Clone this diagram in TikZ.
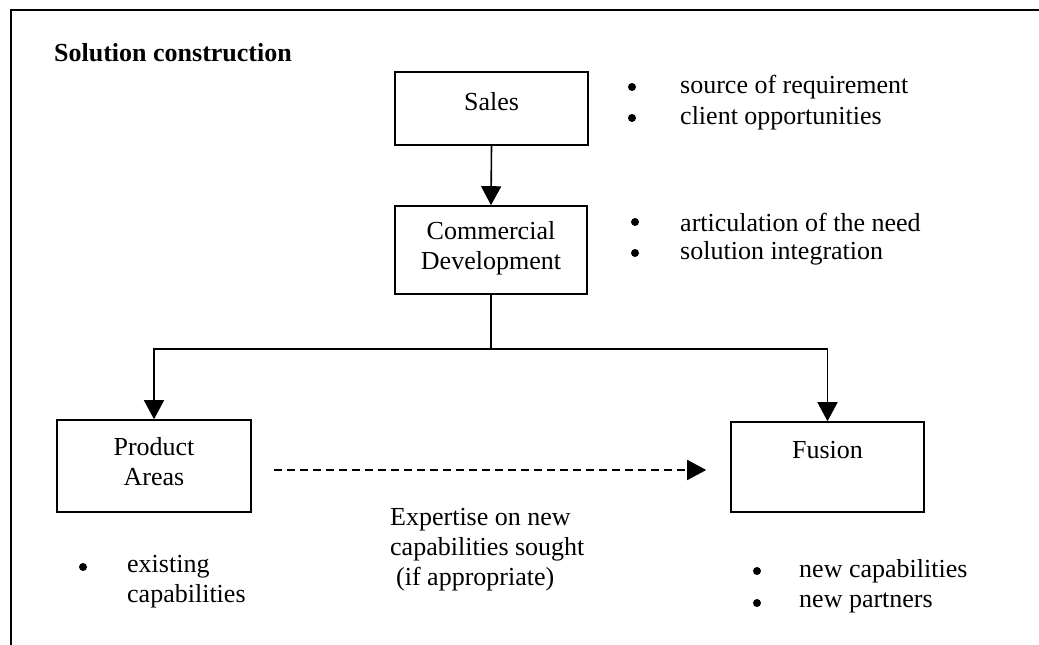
\documentclass[tikz,border=0pt]{standalone}
\usepackage{fontspec}
\setmainfont{Liberation Serif}
\usetikzlibrary{arrows.meta}
\begin{document}
\begin{tikzpicture}[x=1pt,y=-1pt,
  every node/.style={font=\fontsize{26}{30}\selectfont},
  box/.style={draw, line width=1.6pt, inner sep=0pt},
  lbl/.style={inner sep=0pt, align=center},
  item/.style={inner sep=0pt, anchor=west, align=left},
  dot/.style={circle, fill, inner sep=0pt, minimum size=8pt},
  conn/.style={line width=1.6pt},
  arr/.style={conn, -{Triangle[length=19pt,width=20pt]}},
  darr/.style={arr, dash pattern=on 8pt off 5pt}
]
\useasboundingbox (0,0) rectangle (1039,645);

% outer frame (top and left edges only)
\draw[line width=1.4pt] (11,645) -- (11,10) -- (1039,10);

% title
\node[item] (title) at (54,53) {\bfseries Solution construction};

% boxes
\node[box, minimum width=193pt, minimum height=73pt] (sales) at (491.5,108.5) {};
\node[box, minimum width=192pt, minimum height=88pt] (cd)    at (491,250) {};
\node[box, minimum width=194pt, minimum height=92pt] (prod)  at (154,466) {};
\node[box, minimum width=193pt, minimum height=90pt] (fus)   at (827.5,467) {};

% box labels
\node[lbl] (salesT) at (491.5,102) {Sales};
\node[lbl] (cdT)    at (491,248)   {Commercial\\Development};
\node[lbl] (prodT)  at (154,462)   {Product\\Areas};
\node[lbl] (fusT)   at (827.5,450) {Fusion};

% connectors
\coordinate (bus) at (490,349);
\draw[arr] (sales.south) -- (cd.north);
\draw[arr] (cd.south) -- (cd.south |- bus) -| (prod.north);
\draw[arr] (cd.south |- bus) -| (fus.north);
\draw[darr, shorten <=22pt, shorten >=24pt] (prod.east |- 0,470) -- (fus.west |- 0,470);

% dashed arrow caption
\node[item] (exp) at (390,550) {Expertise on new\\capabilities sought\\\hspace{6pt}(if appropriate)};

% notes beside Sales
\node[dot] (b1) at (632,87) {};
\node[item] (t1) at (680,87) {source of requirement};
\node[dot] (b2) at (632,118) {};
\node[item] (t2) at (680,118) {client opportunities};

% notes beside Commercial Development
\node[dot] (b3) at (635,222) {};
\node[item] (t3) at (680,222) {articulation of the need};
\node[dot] (b4) at (635,253) {};
\node[item] (t4) at (680,253) {solution integration};

% notes under Product Areas
\node[dot] (b5) at (83,567) {};
\node[item] (t5) at (127,582) {existing\\capabilities};

% notes under Fusion
\node[dot] (b6) at (757,571) {};
\node[item] (t6) at (799,571) {new capabilities};
\node[dot] (b7) at (757,603) {};
\node[item] (t7) at (799,603) {new partners};
\end{tikzpicture}
\end{document}
